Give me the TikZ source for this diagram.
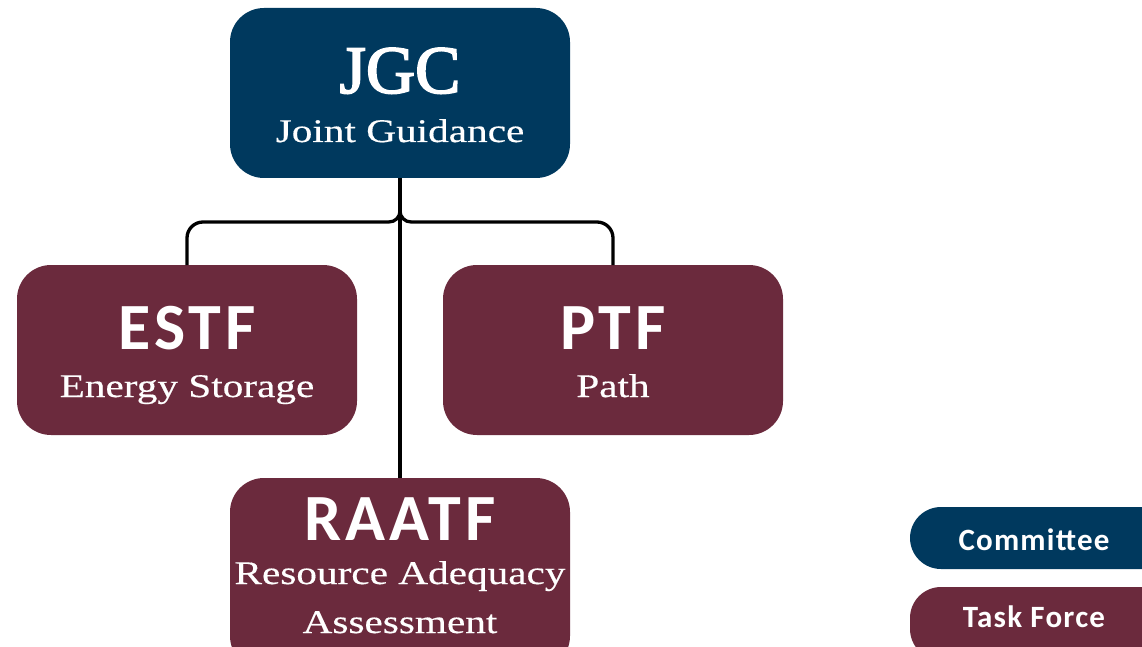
\documentclass[tikz,border=0pt]{standalone}
\usepackage{fontspec}
\setmainfont{Liberation Serif}
\newfontfamily\subserif[FakeStretch=1.25,FakeBold=0.4]{Liberation Serif}
\newfontfamily\jgcserif[FakeBold=2.5]{Liberation Serif}
\newfontfamily\headsans[LetterSpace=6]{Carlito}
\newfontfamily\legendsans[LetterSpace=4]{Carlito}
\definecolor{navy}{RGB}{0,57,94}
\definecolor{maroon}{RGB}{107,42,61}
\begin{document}
\begin{tikzpicture}[x=1pt,y=-1pt,
  boxbase/.style={rounded corners=34pt, draw=none, inner sep=0pt},
  committee/.style={boxbase, fill=navy},
  taskforce/.style={boxbase, fill=maroon},
  txt/.style={text=white, inner sep=0pt, anchor=base},
  title/.style={txt, font=\fontsize{66}{66}\headsans\bfseries},
  jtitle/.style={txt, font=\fontsize{68}{68}\jgcserif},
  sub/.style={txt, font=\fontsize{33}{40}\subserif},
  legendtxt/.style={txt, font=\fontsize{31}{31}\legendsans\bfseries},
  conn/.style={draw=black, line width=3.3pt, rounded corners=16pt}]
\useasboundingbox (0,0) rectangle (1142,647);
% boxes
\path[committee] (230,8) rectangle (570,178);
\path[taskforce] (17,265) rectangle (357,435);
\path[taskforce] (443,265) rectangle (783,435);
\path[taskforce] (230,478) rectangle (570,670);
\coordinate (jgc) at (400,178);
\coordinate (estf) at (187,265);
\coordinate (ptf) at (613,265);
\coordinate (raatf) at (400,478);
% texts
\node[jtitle] (jgcT) at (400,93) {JGC};
\node[sub] (jgcS) at (400,142) {Joint Guidance};
\node[title] (estfT) at (187,349) {ESTF};
\node[sub] (estfS) at (187,397) {Energy Storage};
\node[title] (ptfT) at (613,349) {PTF};
\node[sub] (ptfS) at (613,397) {Path};
\node[title] (raatfT) at (400,540) {RAATF};
\node[sub] (raatfS1) at (400,584) {Resource Adequacy};
\node[sub] (raatfS2) at (400,633) {Assessment};
% connectors
\coordinate (joint) at (400,211);
\draw[line width=3.3pt] (jgc) -- (raatf);
\draw[conn] (estf) -- (187,222) -- (389,222);
\draw[line width=3.3pt] (389,222) to[out=0,in=-90] (joint);
\draw[conn] (ptf) -- (613,222) -- (411,222);
\draw[line width=3.3pt] (411,222) to[out=180,in=-90] (joint);
% legend
\path[committee, rounded corners=31pt] (910,507) rectangle (1190,569);
\node[legendtxt] (legC) at (1034,550) {Committee};
\path[taskforce, rounded corners=31pt] (910,587) rectangle (1190,660);
\node[legendtxt] (legT) at (1034,627) {Task Force};
\end{tikzpicture}
\end{document}
